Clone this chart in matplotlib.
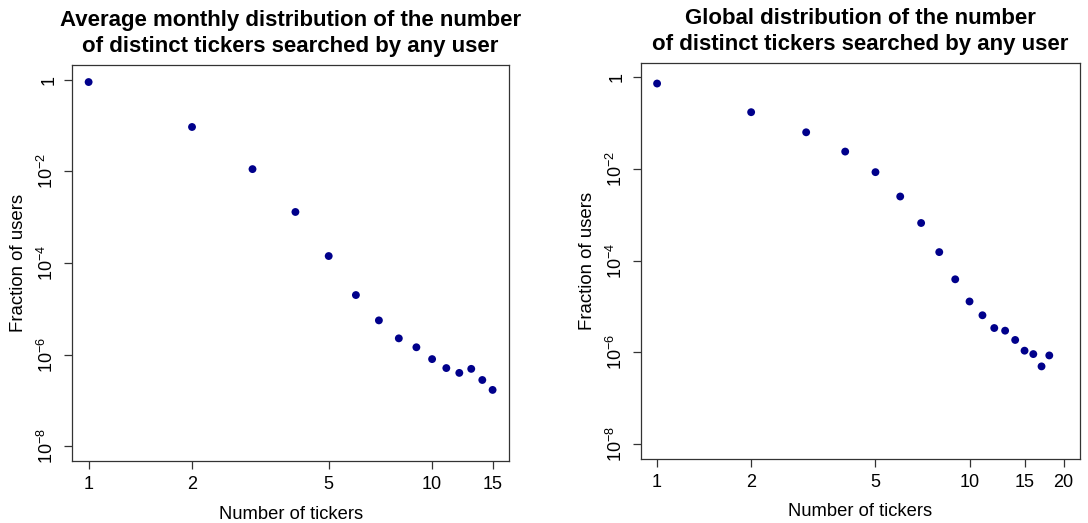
import numpy as np
import matplotlib
matplotlib.use("Agg")
import matplotlib.pyplot as plt
from matplotlib.ticker import FixedLocator, NullLocator

plt.rcParams['font.family'] = ['Liberation Sans', 'DejaVu Sans']
plt.rcParams['mathtext.fontset'] = 'custom'
plt.rcParams['mathtext.rm'] = 'Liberation Sans'

# monthly averages
n_monthly = [1, 2, 3, 4, 5, 6, 7, 8, 9, 10, 11, 12, 13, 14, 15]
frac_monthly = [0.89, 0.093, 0.0112, 1.3e-3, 1.42e-4, 2.0e-5, 5.6e-6, 2.27e-6,
                1.45e-6, 8.0e-7, 5.1e-7, 4.0e-7, 4.9e-7, 2.8e-7, 1.7e-7]

# global
n_global = [1, 2, 3, 4, 5, 6, 7, 8, 9, 10, 11, 12, 13, 14, 15, 16, 17, 18]
frac_global = [0.73, 0.173, 0.063, 0.0239, 8.5e-3, 2.5e-3, 6.6e-4, 1.53e-4,
               3.9e-5, 1.28e-5, 6.4e-6, 3.37e-6, 2.95e-6, 1.85e-6, 1.08e-6,
               9.1e-7, 4.9e-7, 8.5e-7]

xticks_monthly = [1, 2, 5, 10, 15]
xticks_global = [1, 2, 5, 10, 15, 20]
yticks = [1, 1e-2, 1e-4, 1e-6, 1e-8]
ytick_labels = ['1', '$10^{-2}$', '$10^{-4}$', '$10^{-6}$', '$10^{-8}$']

title_monthly = ["Average monthly distribution of the number",
                 "of distinct tickers searched by any user"]
title_global = ["Global distribution of the number",
                "of distinct tickers searched by any user"]

col = '#00008B'


def r_style(ax, x, y, xmax, xticks, title):
    ax.scatter(x, y, s=32, color=col, edgecolors='none', zorder=3)
    ax.set_xscale('log')
    ax.set_yscale('log')
    # R style 4% extension of the range
    ax.set_xlim(xmax ** -0.04, xmax ** 1.04)
    ax.set_ylim(10 ** (-8 - 0.32), 10 ** 0.32)
    ax.xaxis.set_major_locator(FixedLocator(xticks))
    ax.xaxis.set_minor_locator(NullLocator())
    ax.set_xticklabels([str(t) for t in xticks])
    ax.yaxis.set_major_locator(FixedLocator(yticks))
    ax.yaxis.set_minor_locator(NullLocator())
    ax.set_yticklabels(ytick_labels, rotation=90, va='center')
    ax.tick_params(direction='out', length=6, width=0.9, labelsize=13,
                   color='#333333', pad=5)
    for sp in ax.spines.values():
        sp.set_linewidth(0.9)
        sp.set_color('#333333')
    ax.set_xlabel('Number of tickers', fontsize=13.2, labelpad=9)
    ax.set_ylabel('Fraction of users', fontsize=13.4, labelpad=7)
    ax.text(0.5, 1.098, title[0], transform=ax.transAxes,
            ha='center', va='baseline', fontsize=16, fontweight='bold')
    ax.text(0.5, 1.033, title[1], transform=ax.transAxes,
            ha='center', va='baseline', fontsize=16, fontweight='bold')


fig = plt.figure(figsize=(10.88, 5.23), dpi=100)
ax1 = fig.add_axes([0.0666, 0.1186, 0.401, 0.757])
ax2 = fig.add_axes([0.589, 0.1233, 0.4035, 0.757])

r_style(ax1, n_monthly, frac_monthly, 15, xticks_monthly, title_monthly)
r_style(ax2, n_global, frac_global, 20, xticks_global, title_global)

fig.savefig('out.png', dpi=100)
